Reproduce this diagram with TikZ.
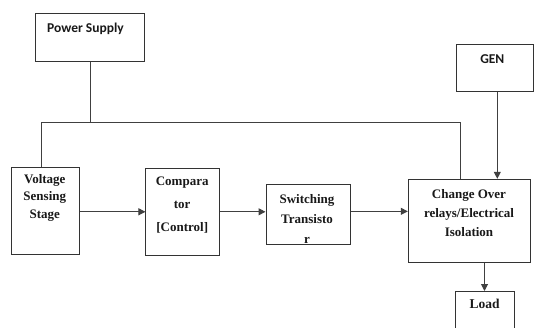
\documentclass[tikz,border=0pt]{standalone}
\usepackage{fontspec}
\setmainfont{Liberation Serif}
\newfontfamily\serb{Liberation Serif}
\newfontfamily\calib{Carlito}
\usetikzlibrary{arrows.meta,calc}
\begin{document}
\begin{tikzpicture}[x=1pt,y=-1pt,
  box/.style={draw=black!80,line width=1pt,inner sep=0pt,fill=white},
  ln/.style={draw=black!75,line width=1pt},
  arr/.style={ln,-{Triangle[length=7pt,width=7pt]}},
  sertxt/.style={font=\serb\fontsize{13}{17.7}\selectfont\bfseries,align=center,inner sep=0pt,text=black!90},
  caltxt/.style={font=\calib\fontsize{13.5}{16}\selectfont\bfseries,inner sep=0pt,text=black!90}]
\useasboundingbox (0,0) rectangle (548,328);
\clip (0,0) rectangle (548,328);
% boxes
\node[box,minimum width=108.6pt,minimum height=47.7pt] (ps) at (90,37.85) {};
\node[caltxt,anchor=west] (pst) at (47,29) {Power Supply};
\node[box,minimum width=76.7pt,minimum height=47.4pt] (gen) at (495.3,68) {};
\node[caltxt] (gent) at (492.3,59) {GEN};
\node[box,minimum width=67.6pt,minimum height=86.7pt] (vs) at (45.5,210.7) {};
\node[sertxt] (vst) at (44.8,197.7) {Voltage\\Sensing\\Stage};
\node[box,minimum width=73.7pt,minimum height=87pt] (cp) at (182.8,211.8) {};
\node[sertxt,font=\serb\fontsize{13}{22.7}\selectfont\bfseries] (cpt) at (182.2,205) {Compara\\tor\\{[Control]}};
\node[box,minimum width=84pt,minimum height=60.3pt] (sw) at (308,214.85) {};
\node[sertxt,font=\serb\fontsize{13}{19.7}\selectfont\bfseries] (swt) at (307,219) {Switching\\Transisto\\r};
\node[box,minimum width=122pt,minimum height=83.4pt] (co) at (469.3,221) {};
\node[sertxt,font=\serb\fontsize{13}{19}\selectfont\bfseries] (cot) at (469,213) {Change Over\\relays/Electrical\\Isolation};
\node[box,minimum width=59pt,minimum height=60pt,anchor=north] (ld) at (484.5,291) {};
\node[sertxt,font=\serb\fontsize{13.5}{17}\selectfont\bfseries] (ldt) at (484.5,304) {Load};
% power distribution
\coordinate (jn) at (90,123);
\coordinate (jl) at (41.5,123);
\coordinate (jr) at (460,123);
\draw[ln] (ps.south) -- (jn);
\draw[ln] (vs.north -| jl) -- (jl) -- (jr) -- (jr |- co.north);
% arrows
\draw[arr] (gen.south -| 497.3,0) -- (co.north -| 497.3,0);
\coordinate (vx) at (vs.east |- cp.west);
\draw[arr] (vx) -- (cp.west);
\draw[arr] (cp.east) -- (cp.east -| sw.west);
\coordinate (sx) at ([yshift=3.5pt]sw.east);
\draw[arr] (sx) -- (sx -| co.west);
\draw[arr] (co.south -| ld.north) -- (ld.north);
\end{tikzpicture}
\end{document}
